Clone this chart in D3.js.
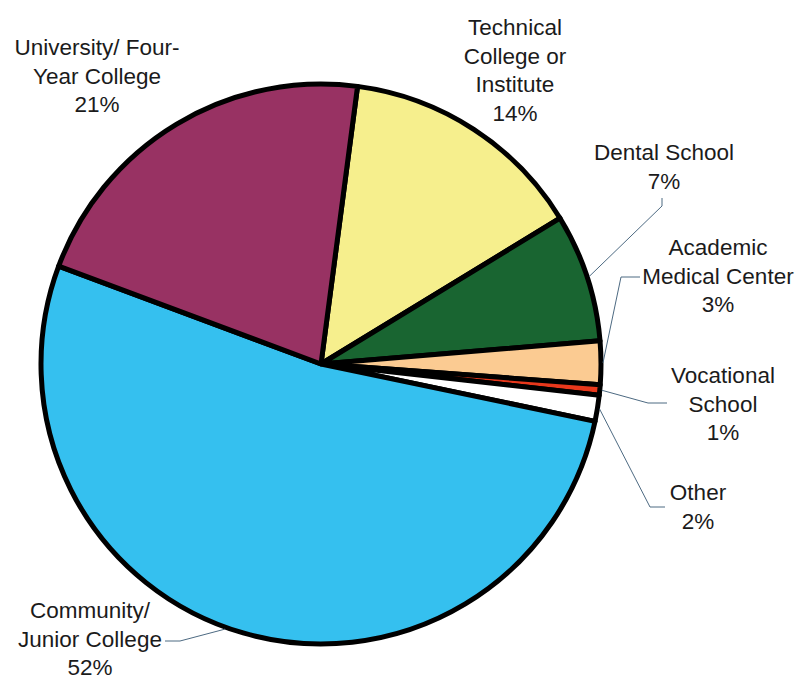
<!DOCTYPE html>
<html>
<head>
<meta charset="utf-8">
<script src="https://cdn.jsdelivr.net/npm/d3@7"></script>
<style>
  html, body { margin: 0; padding: 0; background: #ffffff; }
  svg { display: block; }
  text { font-family: "Liberation Sans", Arial, sans-serif; fill: #1b1b1b; }
</style>
</head>
<body>
<svg id="chart" width="798" height="683"></svg>
<script>
// ---- data ----
const categories = ["Technical College or Institute", "Dental School", "Academic Medical Center",
                    "Vocational School", "Other", "Community/ Junior College", "University/ Four-Year College"];
const labelLines = [
  ["Technical", "College or", "Institute"],
  ["Dental School"],
  ["Academic", "Medical Center"],
  ["Vocational", "School"],
  ["Other"],
  ["Community/", "Junior College"],
  ["University/ Four-", "Year College"]
];
const values = [14.2, 7.4, 2.5, 0.6, 1.5, 52.4, 21.4];
const colors = ["#F6EF8D", "#196531", "#FBCB92", "#E8381C", "#FFFFFF", "#35C0EF", "#983263"];

// ---- layout ----
const W = 798, H = 683;
const cx = 321, cy = 364, R = 280;
const startDeg = 7.5;
// label anchors: [center x, first baseline y]
const labelPos = [[515, 35], [664, 160], [718, 255], [723, 383], [698, 500], [90, 618], [97, 55]];
// leader polylines for outside labels (start at label side), last point computed from slice
const leaders = [
  null,
  [[662, 198], [662, 206]],
  [[640, 277], [621, 277]],
  [[667, 403], [648, 403]],
  [[665, 507], [650, 507]],
  [[165, 641], [180, 641]],
  null
];

const svg = d3.select("#chart");
const total = d3.sum(values);
const pie = d3.pie().sort(null).value(d => d)
  .startAngle(startDeg * Math.PI / 180)
  .endAngle(startDeg * Math.PI / 180 + 2 * Math.PI);
const arcs = pie(values);
const arc = d3.arc().innerRadius(0).outerRadius(R);
const color = d3.scaleOrdinal().domain(d3.range(values.length)).range(colors);

const g = svg.append("g").attr("transform", `translate(${cx},${cy})`);
g.selectAll("path.slice").data(arcs).join("path")
  .attr("class", "slice")
  .attr("d", arc)
  .attr("fill", (d, i) => color(i))
  .attr("stroke", "#000")
  .attr("stroke-width", 5)
  .attr("stroke-linejoin", "round");

// leader lines
arcs.forEach((d, i) => {
  if (!leaders[i]) return;
  let ang = (d.startAngle + d.endAngle) / 2;
  if (i === 5) ang = d.startAngle + (d.endAngle - d.startAngle) * 0.52;
  const rr = R + 2;
  const p = [cx + rr * Math.sin(ang), cy - rr * Math.cos(ang)];
  const pts = leaders[i].concat([p]);
  svg.append("path")
    .attr("d", d3.line()(pts))
    .attr("fill", "none")
    .attr("stroke", "#4d6a82")
    .attr("stroke-width", 1);
});

// labels
const pct = v => Math.round(v / total * 100) + "%";
arcs.forEach((d, i) => {
  const [x, y] = labelPos[i];
  const lines = labelLines[i].concat([pct(values[i])]);
  const t = svg.append("text")
    .attr("text-anchor", "middle")
    .attr("font-size", 22.5);
  lines.forEach((ln, k) => {
    t.append("tspan").attr("x", x).attr("y", y + k * 28.5).text(ln);
  });
});
</script>
</body>
</html>
